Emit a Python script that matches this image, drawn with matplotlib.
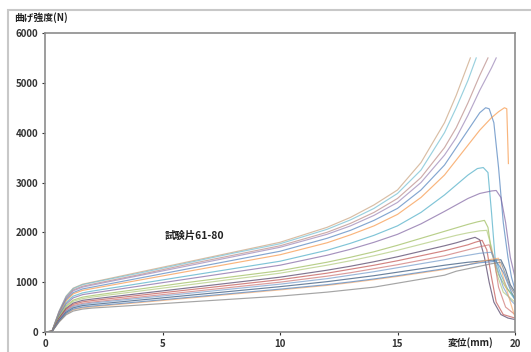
import matplotlib.pyplot as plt
from matplotlib.patches import Rectangle

plt.rcParams['font.family'] = ['Noto Sans CJK JP', 'DejaVu Sans']

# grille commune pour la montée (x en mm)
x_base = [0, 0.3, 0.6, 0.9, 1.2, 1.6, 2, 4, 6, 8, 10, 12, 13, 14, 15, 16, 17]

# chaque courbe : montée sur x_base, puis fin propre (pic + chute)
courbes = [
    # (couleur, y sur x_base, x fin, y fin)
    ('#C9A27E', [0, 20, 420, 720, 880, 960, 1000, 1200, 1400, 1600, 1800, 2100, 2300, 2550, 2850, 3400, 4200],
     [17.5, 18.1], [4750, 5500]),
    ('#6FBDD1', [0, 20, 415, 715, 870, 950, 990, 1180, 1380, 1580, 1770, 2060, 2250, 2480, 2780, 3250, 4000],
     [17.5, 18.0, 18.35], [4500, 5050, 5500]),
    ('#B98A86', [0, 15, 405, 690, 845, 920, 960, 1150, 1350, 1540, 1730, 2000, 2180, 2400, 2680, 3100, 3700],
     [17.5, 18, 18.5, 18.85], [4100, 4600, 5150, 5500]),
    ('#9983B5', [0, 15, 395, 675, 825, 900, 940, 1130, 1320, 1510, 1700, 1960, 2130, 2340, 2600, 3000, 3550],
     [17.5, 18, 18.5, 19, 19.2], [3900, 4350, 4850, 5300, 5500]),
    ('#4F81BD', [0, 15, 380, 650, 790, 865, 900, 1080, 1260, 1440, 1620, 1880, 2040, 2240, 2480, 2850, 3350],
     [17.5, 18, 18.5, 18.75, 18.9, 19.1, 19.3, 19.5, 19.7, 19.85, 20],
     [3700, 4050, 4400, 4500, 4480, 4200, 3300, 2200, 1500, 1100, 850]),
    ('#F79646', [0, 15, 365, 625, 765, 835, 870, 1040, 1210, 1380, 1550, 1790, 1950, 2130, 2360, 2700, 3150],
     [17.5, 18, 18.5, 19, 19.3, 19.55, 19.65, 19.72], [3450, 3750, 4050, 4300, 4420, 4500, 4480, 3380]),
    ('#4BACC6', [0, 15, 345, 590, 720, 785, 820, 970, 1120, 1270, 1420, 1640, 1780, 1940, 2130, 2400, 2750],
     [17.5, 18, 18.4, 18.65, 18.85, 19.0, 19.15, 19.4, 19.7, 20],
     [2950, 3150, 3280, 3300, 3200, 2400, 1500, 1150, 850, 650]),
    ('#8064A2', [0, 15, 330, 560, 685, 750, 780, 920, 1060, 1200, 1340, 1540, 1660, 1800, 1960, 2170, 2420],
     [17.5, 18, 18.5, 19, 19.2, 19.4, 19.6, 19.8, 20], [2550, 2680, 2780, 2830, 2840, 2700, 2200, 1500, 1100]),
    ('#9BBB59', [0, 15, 305, 525, 640, 700, 730, 860, 990, 1110, 1230, 1400, 1500, 1610, 1740, 1880, 2020],
     [17.5, 18, 18.4, 18.7, 18.85, 19.0, 19.3, 19.6, 20], [2090, 2160, 2210, 2240, 2100, 1600, 1150, 900, 700]),
    ('#AFC97A', [0, 15, 295, 505, 615, 670, 700, 820, 940, 1060, 1180, 1340, 1430, 1530, 1640, 1760, 1880],
     [17.5, 18, 18.5, 18.8, 19.0, 19.2, 19.5, 20], [1940, 1990, 2030, 2040, 1700, 1200, 800, 600]),
    ('#4D3B62', [0, 15, 275, 475, 580, 635, 660, 770, 880, 990, 1100, 1240, 1320, 1410, 1510, 1620, 1730],
     [17.5, 18, 18.3, 18.5, 18.7, 18.9, 19.1, 19.4, 19.7, 20], [1790, 1860, 1900, 1850, 1500, 1000, 600, 350, 280, 250]),
    ('#C0504D', [0, 15, 265, 455, 555, 605, 630, 735, 840, 945, 1050, 1180, 1260, 1340, 1430, 1530, 1630],
     [17.5, 18, 18.3, 18.6, 18.8, 19.0, 19.2, 19.5, 20], [1690, 1750, 1800, 1840, 1650, 1100, 600, 350, 280]),
    ('#CD7371', [0, 10, 250, 430, 530, 575, 600, 700, 800, 900, 1000, 1120, 1190, 1270, 1350, 1440, 1530],
     [17.5, 18, 18.5, 18.9, 19.1, 19.3, 19.6, 20], [1590, 1650, 1710, 1750, 1500, 900, 500, 350]),
    ('#729ACA', [0, 10, 245, 420, 510, 555, 580, 675, 770, 865, 960, 1070, 1140, 1210, 1290, 1370, 1450],
     [17.5, 18, 18.5, 19.0, 19.2, 19.5, 19.8, 20], [1500, 1540, 1580, 1600, 1350, 900, 650, 550]),
    ('#2C4D75', [0, 10, 230, 395, 485, 530, 550, 640, 730, 820, 910, 1010, 1070, 1130, 1200, 1270, 1340],
     [17.5, 18, 18.5, 19, 19.4, 19.6, 19.8, 20], [1370, 1400, 1420, 1440, 1450, 1250, 950, 800]),
    ('#F9AB6B', [0, 10, 210, 365, 445, 485, 505, 590, 675, 760, 845, 935, 990, 1050, 1115, 1185, 1255],
     [17.5, 18, 18.5, 19, 19.3, 19.5, 19.8, 20], [1300, 1350, 1410, 1460, 1480, 1100, 600, 300]),
    ('#4F81BD', [0, 10, 220, 375, 460, 500, 520, 605, 690, 775, 860, 950, 1005, 1065, 1130, 1200, 1270],
     [17.5, 18, 18.5, 19, 19.2, 19.5, 19.8, 20], [1310, 1350, 1390, 1410, 1420, 1200, 850, 650]),
    ('#7F7F7F', [0, 10, 200, 345, 420, 460, 480, 540, 600, 660, 720, 800, 850, 900, 980, 1060, 1140],
     [17.5, 18, 18.5, 19, 19.4, 19.6, 19.8, 20], [1220, 1270, 1320, 1370, 1400, 1150, 900, 750]),
]

x_ticks = [0, 5, 10, 15, 20]
y_ticks = [0, 1000, 2000, 3000, 4000, 5000, 6000]

fig = plt.figure(figsize=(5.31, 3.52), dpi=100)
W, H = 531, 352

# cadre gris extérieur
fig.patches.append(Rectangle((8 / W, -0.1), 1.2, 1 - 10 / H + 0.1, transform=fig.transFigure,
                             fill=False, edgecolor='#C8C8C8', linewidth=1.5))

ax = fig.add_axes([45 / W, 1 - 332 / H, 470 / W, 299 / H])

for couleur, y_monte, x_fin, y_fin in courbes:
    ax.plot(x_base + x_fin, y_monte + y_fin, color=couleur, linewidth=0.85, alpha=0.7)

ax.set_xlim(0, 20)
ax.set_ylim(0, 6000)
ax.set_xticks(x_ticks)
ax.set_yticks(y_ticks)
ax.tick_params(length=2, pad=3, labelsize=7, colors='#333333')
for lab in ax.get_xticklabels() + ax.get_yticklabels():
    lab.set_fontweight('bold')
for s in ax.spines.values():
    s.set_color('#8C8C8C')
    s.set_linewidth(1.2)

ax.text(5.1, 1930, '試験片61-80', fontsize=7.5, fontweight='bold', color='#222222', va='center')
fig.text(14 / W, 1 - 18 / H, '曲げ強度(N)', fontsize=7, fontweight='bold', color='#222222', va='center')
fig.text(448 / W, 1 - 343 / H, '変位(mm)', fontsize=7, fontweight='bold', color='#222222', va='center')

fig.savefig('out.png', dpi=100)
